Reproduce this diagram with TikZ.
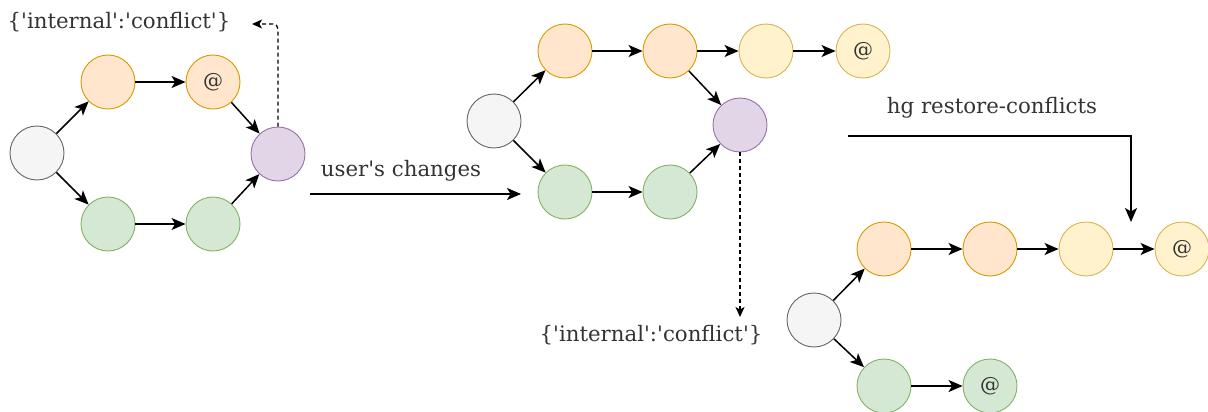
\documentclass[tikz,border=0pt]{standalone}
\usepackage{fontspec}
\setmainfont{DejaVu Serif}[Ligatures=TeXOff]
\usetikzlibrary{arrows.meta}
\definecolor{ofill}{HTML}{FFE6CC}\definecolor{odraw}{HTML}{D79B00}
\definecolor{yfill}{HTML}{FFF2CC}\definecolor{ydraw}{HTML}{D6B656}
\definecolor{gfill}{HTML}{D5E8D4}\definecolor{gdraw}{HTML}{82B366}
\definecolor{pfill}{HTML}{E1D5E7}\definecolor{pdraw}{HTML}{9673A6}
\definecolor{wfill}{HTML}{F5F5F5}\definecolor{wdraw}{HTML}{666666}
\definecolor{txt}{HTML}{333333}
\begin{document}
\begin{tikzpicture}[x=1pt,y=-1pt,
  commit/.style={circle,minimum size=54pt,inner sep=0pt,line width=0.9pt,font=\fontsize{20}{22}\selectfont,text=txt},
  oc/.style={commit,fill=ofill,draw=odraw},
  yc/.style={commit,fill=yfill,draw=ydraw},
  gc/.style={commit,fill=gfill,draw=gdraw},
  pc/.style={commit,fill=pfill,draw=pdraw},
  wc/.style={commit,fill=wfill,draw=wdraw},
  edge/.style={line width=1.5pt,-{Stealth[length=14pt,width=12pt,inset=3.5pt]}},
  dedge/.style={line width=1.3pt,dash pattern=on 4pt off 3pt,-{Stealth[length=10pt,width=9pt,inset=2.5pt]}},
  lbl/.style={font=\fontsize{21.3}{24}\selectfont,text=txt,inner sep=0pt}]
\useasboundingbox (0,0) rectangle (1208,412);
% left graph
\node[wc] (lw) at (37,153) {};
\node[oc] (lo1) at (108,82) {};
\node[oc] (lo2) at (213,82) {@};
\node[pc] (lp) at (278,154) {};
\node[gc] (lg1) at (108,224) {};
\node[gc] (lg2) at (213,224) {};
\draw[edge] (lw) -- (lo1);
\draw[edge] (lo1) -- (lo2);
\draw[edge] (lo2) -- (lp);
\draw[edge] (lw) -- (lg1);
\draw[edge] (lg1) -- (lg2);
\draw[edge] (lg2) -- (lp);
\node[lbl] (lt) at (119,22) {\{'internal':'conflict'\}};
\coordinate (lcorner) at (278,24);
\coordinate (lend) at (252,24);
\draw[dedge,rounded corners=5pt] (lp.north) -- (lcorner) -- (lend);
% user's changes
\coordinate (uc1) at (310,194);
\coordinate (uc2) at (521,194);
\draw[edge] (uc1) -- (uc2);
\node[lbl] (ul) at (401,171) {user's changes};
% middle graph
\node[wc] (mw) at (494,121) {};
\node[oc] (mo1) at (565,51) {};
\node[oc] (mo2) at (670,51) {};
\node[yc] (my1) at (766,51) {};
\node[yc] (my2) at (863,51) {@};
\node[pc] (mp) at (740,125) {};
\node[gc] (mg1) at (565,192) {};
\node[gc] (mg2) at (670,192) {};
\draw[edge] (mw) -- (mo1);
\draw[edge] (mo1) -- (mo2);
\draw[edge] (mo2) -- (my1);
\draw[edge] (my1) -- (my2);
\draw[edge] (mo2) -- (mp);
\draw[edge] (mw) -- (mg1);
\draw[edge] (mg1) -- (mg2);
\draw[edge] (mg2) -- (mp);
\coordinate (mend) at (740,317);
\draw[dedge] (mp.south) -- (mend);
\node[lbl] (mt) at (651,335) {\{'internal':'conflict'\}};
% hg restore-conflicts
\node[lbl] (hl) at (992,108) {hg restore-conflicts};
\coordinate (h1) at (848,136);
\coordinate (h2) at (1131,136);
\coordinate (h3) at (1131,222);
\draw[edge] (h1) -- (h2) -- (h3);
% right graph
\node[wc] (rw) at (814,320) {};
\node[oc] (ro1) at (884,249) {};
\node[oc] (ro2) at (990,249) {};
\node[yc] (ry1) at (1086,249) {};
\node[yc] (ry2) at (1182,249) {@};
\node[gc] (rg1) at (884,386) {};
\node[gc] (rg2) at (990,386) {@};
\draw[edge] (rw) -- (ro1);
\draw[edge] (ro1) -- (ro2);
\draw[edge] (ro2) -- (ry1);
\draw[edge] (ry1) -- (ry2);
\draw[edge] (rw) -- (rg1);
\draw[edge] (rg1) -- (rg2);
\end{tikzpicture}
\end{document}
